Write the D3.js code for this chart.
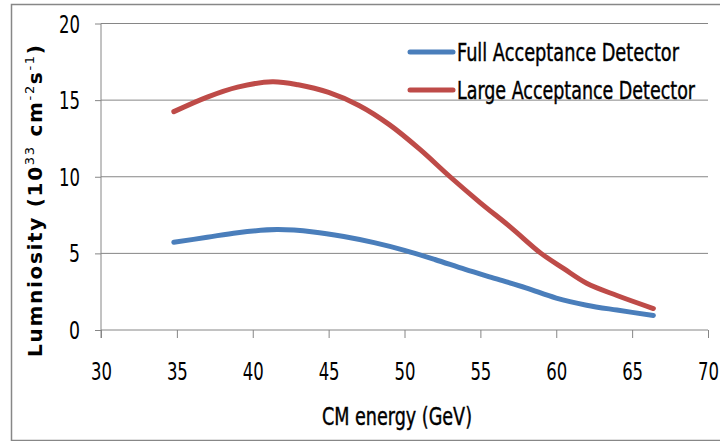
<!DOCTYPE html>
<html><head><meta charset="utf-8">
<script src="https://cdn.jsdelivr.net/npm/d3@7"></script>
<style>
body{margin:0;background:#fff;}
text{font-family:"Liberation Sans Narrow","DejaVu Sans Condensed","Arial Narrow",sans-serif;fill:#000;}
</style></head>
<body><svg id="c" width="720" height="441"></svg>
<script>
const fullX = [34.8, 37, 39, 41.6, 44, 46, 48, 50, 52, 54, 56, 58, 60, 62, 64, 66.4];
const fullY = [5.72, 6.05, 6.35, 6.55, 6.4, 6.1, 5.7, 5.2, 4.6, 3.95, 3.35, 2.75, 2.08, 1.62, 1.3, 0.95];
const largeX = [34.8, 37, 39, 41.3, 43, 45, 47, 49, 51, 53, 55, 57, 59, 60.5, 62, 64, 66.4];
const largeY = [14.25, 15.2, 15.85, 16.2, 16.0, 15.5, 14.65, 13.4, 11.8, 10.0, 8.3, 6.7, 5.0, 4.0, 3.05, 2.25, 1.4];
const xTicks = [30, 35, 40, 45, 50, 55, 60, 65, 70];
const yTicks = [0, 5, 10, 15, 20];
const seriesNames = ["Full Acceptance Detector", "Large Acceptance Detector"];
const colors = ["#4a7ebb", "#be4b48"];

const svg = d3.select("#c");
// outer frame
svg.append("path").attr("d","M730,4.5 H11.5 V440.5 H730").attr("fill","none").attr("stroke","#878787").attr("stroke-width",1.5);

const x = d3.scaleLinear().domain([30,70]).range([101,708]);
const y = d3.scaleLinear().domain([0,20]).range([330,23.5]);

// gridlines
svg.append("g").selectAll("line").data(yTicks.filter(d=>d>0)).join("line")
  .attr("x1",x(30)).attr("x2",x(70)).attr("y1",d=>y(d)).attr("y2",d=>y(d))
  .attr("stroke","#868686").attr("stroke-width",1);

const tw = d => String(d).length === 1 ? 11 : 21;

// y axis
const ya = svg.append("g").attr("transform",`translate(${x(30)},0)`)
  .call(d3.axisLeft(y).tickValues(yTicks).tickSize(6).tickPadding(15));
ya.select(".domain").attr("stroke","#868686").attr("d",`M0,${y(20)}V${y(0)+8}`);
ya.selectAll(".tick line").attr("stroke","#868686");
ya.selectAll(".tick text").attr("font-size",25).attr("font-family",null).attr("fill","#1a1a1a").attr("dy","0.34em")
  .attr("textLength",tw).attr("lengthAdjust","spacingAndGlyphs");

// x axis
const xa = svg.append("g").attr("transform",`translate(0,${y(0)})`)
  .call(d3.axisBottom(x).tickValues(xTicks).tickSize(8).tickPadding(24));
xa.select(".domain").attr("stroke","#868686").attr("d",`M${x(30)},0H${x(70)}`);
xa.selectAll(".tick line").attr("stroke","#868686");
xa.selectAll(".tick text").attr("font-size",25).attr("font-family",null).attr("fill","#1a1a1a").attr("dy","0.71em")
  .attr("textLength",tw).attr("lengthAdjust","spacingAndGlyphs");

// lines
const line = d3.line().x(d=>x(d[0])).y(d=>y(d[1])).curve(d3.curveCatmullRom.alpha(0.5));
const data = [d3.zip(fullX, fullY), d3.zip(largeX, largeY)];
svg.append("g").selectAll("path").data(data).join("path")
  .attr("d",line).attr("fill","none").attr("stroke",(d,i)=>colors[i])
  .attr("stroke-width",5).attr("stroke-linecap","round");

// legend
const lg = svg.append("g");
seriesNames.forEach((n,i)=>{
  const ly = 52 + i*38;
  lg.append("line").attr("x1",410).attr("x2",453).attr("y1",ly).attr("y2",ly)
    .attr("stroke",colors[i]).attr("stroke-width",5).attr("stroke-linecap","round");
  lg.append("text").attr("x",457).attr("y",ly+9).attr("font-size",24)
    .attr("stroke","#000").attr("stroke-width",0.4)
    .attr("textLength", i===0?222:238).attr("lengthAdjust","spacingAndGlyphs").text(n);
});

// x title
svg.append("text").attr("x",322).attr("y",425).attr("font-size",24)
  .attr("stroke","#000").attr("stroke-width",0.4)
  .attr("textLength",150).attr("lengthAdjust","spacingAndGlyphs").text("CM energy (GeV)");

// y title
const yt = svg.append("text").attr("transform","translate(42,201) rotate(-90)")
  .attr("text-anchor","middle").attr("font-size",20).attr("font-weight","bold")
  .attr("textLength",312).attr("lengthAdjust","spacing")
  .style("font-family","'DejaVu Sans',Verdana,sans-serif");
yt.append("tspan").text("Lumniosity (10");
yt.append("tspan").attr("font-size",13).attr("dy",-8).attr("font-weight","normal").text("33");
yt.append("tspan").attr("dy",8).text(" cm");
yt.append("tspan").attr("font-size",13).attr("dy",-8).attr("font-weight","normal").text("-2");
yt.append("tspan").attr("dy",8).text("s");
yt.append("tspan").attr("font-size",13).attr("dy",-8).attr("font-weight","normal").text("-1");
yt.append("tspan").attr("dy",8).text(")");
</script></body></html>
